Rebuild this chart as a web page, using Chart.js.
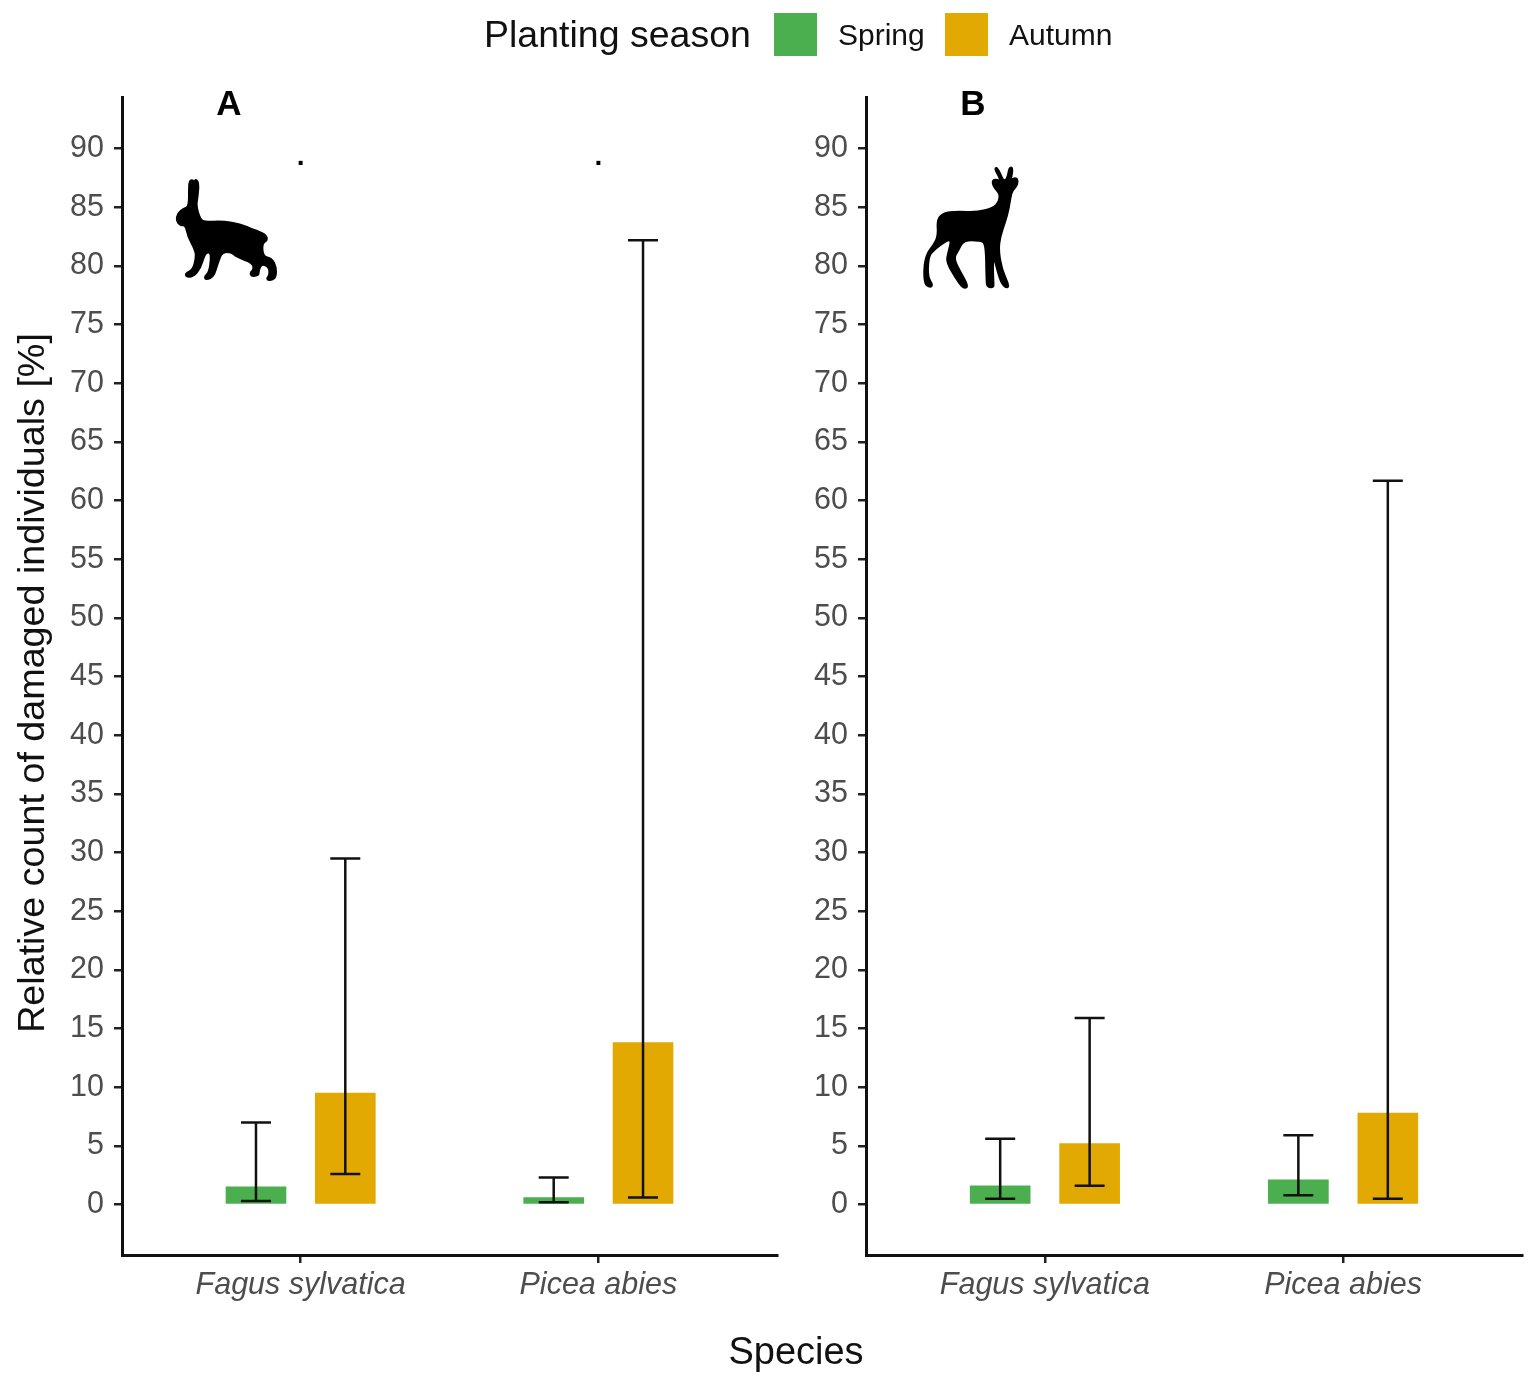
<!DOCTYPE html>
<html>
<head>
<meta charset="utf-8">
<title>Relative count of damaged individuals</title>
<script src="https://cdn.jsdelivr.net/npm/chart.js@4"></script>
<style>
  html, body { margin: 0; padding: 0; background: #fff; }
  body { width: 1535px; height: 1380px; position: relative; overflow: hidden; font-family: "Liberation Sans", sans-serif; color: #000; }
  canvas { position: absolute; top: 80px; }
  #chartA { left: 0; }
  #chartB { left: 744px; }
  .txt { position: absolute; white-space: nowrap; line-height: 1; }
  .swatch { position: absolute; top: 13px; width: 43px; height: 43px; }
  #yTitle { left: 32px; top: 683px; font-size: 37.7px; transform: translate(-50%, -50%) rotate(-90deg); color: #111; }
  #xTitle { left: 796px; top: 1351px; font-size: 38px; transform: translate(-50%, -50%); color: #111; }
  #icons { position: absolute; left: 0; top: 0; }
</style>
</head>
<body>
<canvas id="chartA" width="790" height="1250"></canvas>
<canvas id="chartB" width="791" height="1250"></canvas>

<svg id="icons" width="1535" height="1380">
  <g transform="translate(130,80) scale(0.3333)" fill="#000" stroke="#000" stroke-width="8" stroke-linejoin="round">
    <path class="blob" data-points="178,380 178,320 180,304 187,300 192,312 197,298 205,310 202,350 197,378 210,420 225,427 280,425 330,433 370,450 405,463 412,480 395,490 398,530 425,537 437,560 437,590 425,600 410,598 420,585 418,560 395,550 385,570 385,585 365,588 362,578 372,570 370,548 320,530 305,515 275,515 262,550 250,590 228,598 225,590 240,575 245,520 232,515 222,525 210,565 190,588 170,590 168,580 190,570 200,530 195,505 175,470 168,435 150,435 140,420 145,400 160,388"/>
  </g>
  <g transform="translate(880,80) scale(0.3333)" fill="#000" stroke="#000" stroke-width="7" stroke-linejoin="round">
    <path class="blob" data-points="340,300 352,300 362,305 358,290 345,268 350,262 362,285 368,300 378,302 385,285 388,265 397,262 395,290 385,308 398,295 412,295 412,315 398,330 392,345 385,390 375,425 360,470 355,510 365,570 388,620 375,622 360,600 340,520 338,560 340,610 340,622 322,620 320,600 318,490 300,480 250,480 235,510 220,535 240,575 265,620 250,625 225,590 200,545 205,520 215,480 200,480 160,510 145,530 142,590 158,615 150,622 132,610 135,530 165,490 175,465 172,420 190,400 230,395 290,398 340,385 358,365 360,340 345,325 338,310"/>
  </g>
</svg>

<div class="txt" style="left:484px;top:16px;font-size:37.5px;color:#111">Planting season</div>
<div class="swatch" style="left:774px;background:#4caf4f"></div>
<div class="txt" style="left:838px;top:20px;font-size:30px;color:#111">Spring</div>
<div class="swatch" style="left:945px;background:#e3a903"></div>
<div class="txt" style="left:1009px;top:20px;font-size:30px;color:#111">Autumn</div>
<div class="txt" id="yTitle">Relative count of damaged individuals [%]</div>
<div class="txt" id="xTitle">Species</div>

<script>
// values
const species = ["Fagus sylvatica", "Picea abies"];
const yTicks = [0, 5, 10, 15, 20, 25, 30, 35, 40, 45, 50, 55, 60, 65, 70, 75, 80, 85, 90];

// panel A (hare)
const hareSpring = [1.5, 0.6];
const hareSpringLow = [0.3, 0.2];
const hareSpringHigh = [7.0, 2.3];
const hareAutumn = [9.5, 13.8];
const hareAutumnLow = [2.6, 0.6];
const hareAutumnHigh = [29.5, 82.2];
const hareMarks = [".", "."];

// panel B (roe deer)
const deerSpring = [1.6, 2.1];
const deerSpringLow = [0.5, 0.8];
const deerSpringHigh = [5.6, 5.9];
const deerAutumn = [5.2, 7.8];
const deerAutumnLow = [1.6, 0.5];
const deerAutumnHigh = [15.9, 61.7];
const deerMarks = [];

const SPRING = "#4caf4f";
const AUTUMN = "#e3a903";
const DODGE = 0.15;
const FONT = '"Liberation Sans", sans-serif';

// round off the traced silhouettes a bit
document.querySelectorAll(".blob").forEach((el) => {
  const pts = el.dataset.points.split(" ").map((p) => p.split(",").map(Number));
  const mid = (a, b) => [(a[0] + b[0]) / 2, (a[1] + b[1]) / 2];
  let d = `M${mid(pts[pts.length - 1], pts[0]).join(",")}`;
  pts.forEach((p, i) => {
    d += ` Q${p.join(",")} ${mid(p, pts[(i + 1) % pts.length]).join(",")}`;
  });
  el.setAttribute("d", d + " Z");
});

// whiskers + panel letter + the little significance dots
const extras = {
  id: "extras",
  afterDatasetsDraw(chart, args, opts) {
    const { ctx, scales: { x, y } } = chart;
    ctx.save();
    ctx.strokeStyle = "#111";
    ctx.lineWidth = 2.5;
    chart.data.datasets.forEach((ds) => {
      ds.data.forEach((pt) => {
        const px = x.getPixelForValue(pt.x);
        const lo = y.getPixelForValue(pt.low);
        const hi = y.getPixelForValue(pt.high);
        ctx.beginPath();
        ctx.moveTo(px, lo);
        ctx.lineTo(px, hi);
        ctx.moveTo(px - 15, lo);
        ctx.lineTo(px + 15, lo);
        ctx.moveTo(px - 15, hi);
        ctx.lineTo(px + 15, hi);
        ctx.stroke();
      });
    });

    ctx.fillStyle = "#000";
    ctx.font = `bold 28px ${FONT}`;
    ctx.textAlign = "center";
    ctx.textBaseline = "alphabetic";
    opts.marks.forEach((m, i) => {
      ctx.fillText(m, x.getPixelForValue(i + 1), y.getPixelForValue(88.6));
    });

    ctx.font = `bold 35px ${FONT}`;
    ctx.textBaseline = "middle";
    ctx.fillText(opts.letter, chart.chartArea.left + 107, 25);
    ctx.restore();
  },
};

function makePoints(values, low, high, offset) {
  return values.map((v, i) => ({ x: i + 1 + offset, y: v, low: low[i], high: high[i] }));
}

function makePanel(id, letter, marks, spring, springLow, springHigh, autumn, autumnLow, autumnHigh) {
  return new Chart(document.getElementById(id), {
    type: "bar",
    data: {
      datasets: [
        { label: "Spring", data: makePoints(spring, springLow, springHigh, -DODGE), backgroundColor: SPRING, grouped: false, barThickness: 60 },
        { label: "Autumn", data: makePoints(autumn, autumnLow, autumnHigh, DODGE), backgroundColor: AUTUMN, grouped: false, barThickness: 60 },
      ],
    },
    plugins: [extras],
    options: {
      responsive: false,
      animation: false,
      layout: { padding: { top: 17, right: 13, left: 0, bottom: 0 } },
      plugins: {
        legend: { display: false },
        tooltip: { enabled: false },
        extras: { letter, marks },
      },
      scales: {
        x: {
          type: "linear",
          min: 0.4,
          max: 2.6,
          offset: false,
          afterBuildTicks: (axis) => { axis.ticks = species.map((s, i) => ({ value: i + 1 })); },
          afterFit: (axis) => { axis.height = 75; axis.paddingLeft = 0; axis.paddingRight = 0; },
          border: { color: "#111", width: 3 },
          grid: { offset: false, drawOnChartArea: false, tickLength: 8, tickColor: "#222", lineWidth: 2.5 },
          ticks: {
            autoSkip: false,
            maxRotation: 0,
            padding: 4,
            color: "#4d4d4d",
            font: { family: FONT, size: 30.5, style: "italic" },
            callback: (v) => species[v - 1],
          },
        },
        y: {
          min: -4.3,
          max: 94.4,
          afterBuildTicks: (axis) => { axis.ticks = yTicks.map((v) => ({ value: v })); },
          afterFit: (axis) => { axis.width = 122; axis.paddingTop = 0; axis.paddingBottom = 0; },
          border: { color: "#111", width: 3 },
          grid: { drawOnChartArea: false, tickLength: 8, tickColor: "#222", lineWidth: 2.5 },
          ticks: {
            autoSkip: false,
            padding: 10,
            color: "#4d4d4d",
            font: { family: FONT, size: 30.5 },
          },
        },
      },
    },
  });
}

makePanel("chartA", "A", hareMarks, hareSpring, hareSpringLow, hareSpringHigh, hareAutumn, hareAutumnLow, hareAutumnHigh);
makePanel("chartB", "B", deerMarks, deerSpring, deerSpringLow, deerSpringHigh, deerAutumn, deerAutumnLow, deerAutumnHigh);
</script>
</body>
</html>
